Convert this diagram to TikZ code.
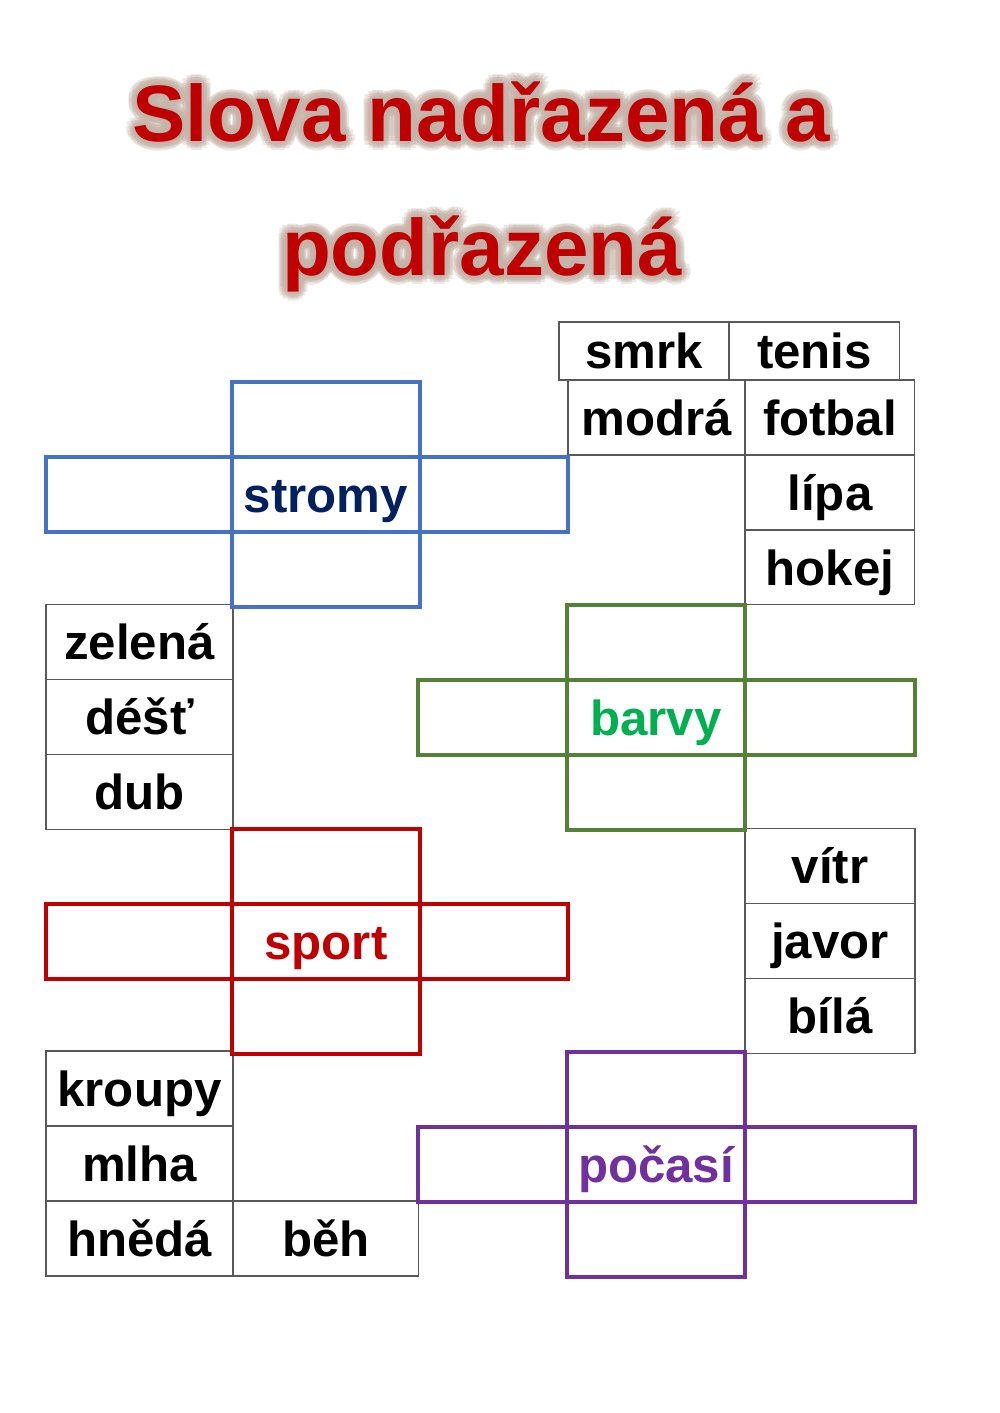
\documentclass[tikz,border=0pt]{standalone}
\usepackage{fontspec}
\setmainfont{Liberation Sans}
\usetikzlibrary{positioning}
\definecolor{titlered}{HTML}{C00000}
\definecolor{glow}{HTML}{C4B3A8}
\definecolor{bluecross}{HTML}{4472C4}
\definecolor{bluetext}{HTML}{002060}
\definecolor{greencross}{HTML}{548235}
\definecolor{greentext}{HTML}{00B050}
\definecolor{redcross}{HTML}{C00000}
\definecolor{purplecross}{HTML}{7030A0}
\tikzstyle{word} = [draw=black!65, line width=0.6pt, rectangle, outer sep=0pt, inner sep=0pt, minimum width=3.4cm, minimum height=1.5cm, text height=24pt, text depth=4pt, font=\fontsize{28}{30}\selectfont\bfseries]
\tikzstyle{cell} = [draw, line width=2.3pt, rectangle, outer sep=0pt, inner sep=0pt, minimum height=1.5cm, text height=24pt, text depth=4pt, font=\fontsize{28}{30}\selectfont\bfseries]
\tikzstyle{heading} = [anchor=base, inner sep=0pt, font=\fontsize{45.5}{50}\selectfont\bfseries]

\begin{document}
\begin{tikzpicture}[x=0.02cm, y=-0.02cm]
    \useasboundingbox (0,0) rectangle (1000,1413);

    % title with its glow
    \foreach \a in {0,30,...,330}
      \foreach \r in {3,6,9} {
        \node[heading, text=glow, text opacity=0.3, name=glowA-\a-\r] at ([shift={(\a:\r)}]481,141) {Slova nadřazená a};
        \node[heading, text=glow, text opacity=0.3, name=glowB-\a-\r] at ([shift={(\a:\r)}]482,275) {podřazená};
      }
    \node[heading, text=titlered, name=title1] at (481,141) {Slova nadřazená a};
    \node[heading, text=titlered, name=title2] at (482,275) {podřazená};

    % word tables
    \node[word, minimum height=1.16cm, name=smrk] at (644,351) {smrk};
    \node[word, minimum height=1.16cm, minimum width=3.42cm, right=0pt of smrk, name=tenis] {tenis};
    \node[word, minimum width=3.54cm, name=modra] at (656.5,417.5) {modrá};
    \node[word, right=0pt of modra, name=fotbal] {fotbal};
    \node[word, below=0pt of fotbal, name=lipa] {lípa};
    \node[word, below=0pt of lipa, name=hokej] {hokej};

    \node[word, minimum width=3.74cm, name=zelena] at (139.5,642) {zelená};
    \node[word, minimum width=3.74cm, below=0pt of zelena, name=dest] {déšť};
    \node[word, minimum width=3.74cm, below=0pt of dest, name=dub] {dub};

    \node[word, name=vitr] at (830,866) {vítr};
    \node[word, below=0pt of vitr, name=javor] {javor};
    \node[word, below=0pt of javor, name=bila] {bílá};

    \node[word, minimum width=3.74cm, name=kroupy] at (139.5,1088.5) {kroupy};
    \node[word, minimum width=3.74cm, below=0pt of kroupy, name=mlha] {mlha};
    \node[word, minimum width=3.74cm, below=0pt of mlha, name=hneda] {hnědá};
    \node[word, minimum width=3.72cm, right=0pt of hneda, name=beh] {běh};

    % stromy cross
    \node[cell, draw=bluecross, text=bluetext, minimum width=3.76cm, name=stromy] at (326,494.5) {stromy};
    \node[cell, draw=bluecross, minimum width=3.76cm, above=0pt of stromy, name=stromyN] {};
    \node[cell, draw=bluecross, minimum width=3.76cm, below=0pt of stromy, name=stromyS] {};
    \node[cell, draw=bluecross, minimum width=3.72cm, left=0pt of stromy, name=stromyW] {};
    \node[cell, draw=bluecross, minimum width=2.96cm, right=0pt of stromy, name=stromyE] {};

    % barvy cross
    \node[cell, draw=greencross, text=greentext, minimum width=3.56cm, name=barvy] at (656,717.5) {barvy};
    \node[cell, draw=greencross, minimum width=3.56cm, above=0pt of barvy, name=barvyN] {};
    \node[cell, draw=greencross, minimum width=3.56cm, below=0pt of barvy, name=barvyS] {};
    \node[cell, draw=greencross, minimum width=2.98cm, left=0pt of barvy, name=barvyW] {};
    \node[cell, draw=greencross, minimum width=3.4cm, right=0pt of barvy, name=barvyE] {};

    % sport cross
    \node[cell, draw=redcross, text=redcross, minimum width=3.76cm, name=sport] at (326,941.5) {sport};
    \node[cell, draw=redcross, minimum width=3.76cm, above=0pt of sport, name=sportN] {};
    \node[cell, draw=redcross, minimum width=3.76cm, below=0pt of sport, name=sportS] {};
    \node[cell, draw=redcross, minimum width=3.72cm, left=0pt of sport, name=sportW] {};
    \node[cell, draw=redcross, minimum width=2.96cm, right=0pt of sport, name=sportE] {};

    % pocasi cross
    \node[cell, draw=purplecross, text=purplecross, minimum width=3.56cm, name=pocasi] at (656,1164.5) {počasí};
    \node[cell, draw=purplecross, minimum width=3.56cm, above=0pt of pocasi, name=pocasiN] {};
    \node[cell, draw=purplecross, minimum width=3.56cm, below=0pt of pocasi, name=pocasiS] {};
    \node[cell, draw=purplecross, minimum width=2.98cm, left=0pt of pocasi, name=pocasiW] {};
    \node[cell, draw=purplecross, minimum width=3.4cm, right=0pt of pocasi, name=pocasiE] {};
\end{tikzpicture}
\end{document}
